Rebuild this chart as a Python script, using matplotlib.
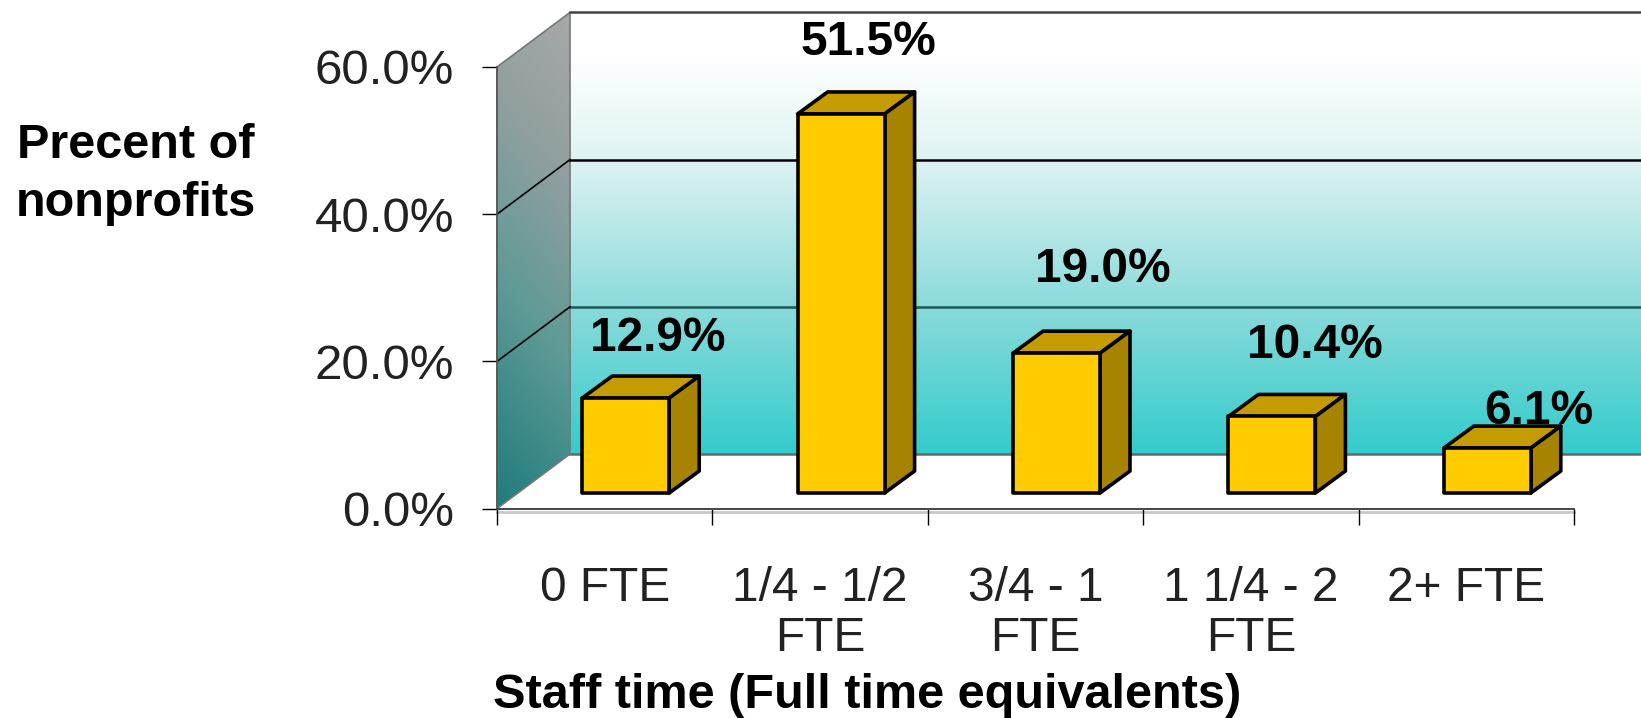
import matplotlib
matplotlib.use("Agg")
import matplotlib.pyplot as plt
from matplotlib.colors import LinearSegmentedColormap
from matplotlib.patches import Polygon
import numpy as np

plt.rcParams['font.family'] = ['Liberation Sans', 'DejaVu Sans']

# Data
categories = ['0 FTE', '1/4 - 1/2\nFTE', '3/4 - 1\nFTE', '1 1/4 - 2\nFTE', '2+ FTE']
percents = [12.9, 51.5, 19.0, 10.4, 6.1]
value_labels = ['12.9%', '51.5%', '19.0%', '10.4%', '6.1%']
y_ticks = [0, 20, 40, 60]

# Hand placed labels in the original, offset from bar top centre in pixels
label_dx = [32, 27, 46, 43, 52]
label_dy = [60, 71, 84, 71, 37]

W, H = 1641, 718
fig = plt.figure(figsize=(W / 100, H / 100), dpi=100, facecolor='white')
ax = fig.add_axes([497 / W, 1 - 508.6 / H, 1077 / W, 441.6 / H])
ax.set_facecolor('none')

# Scales of the fake 3D look (one category = 215.4 px, one percent = 7.36 px)
px_x = 5 / 1077
px_y = 60 / 441.6
wall_dx, wall_dy = 73 * px_x, 54.6 * px_y
floor_dx, floor_dy = 21 * px_x, 15.6 * px_y
bar_dx, bar_dy = 30 * px_x, 22 * px_y
bar_w = 87 * px_x

# Back wall gradient
back_cmap = LinearSegmentedColormap.from_list('back', [
    (0, '#33cccc'), (0.33, '#8adada'), (0.67, '#dff3f3'), (0.9, '#ffffff'), (1, '#ffffff')])
grad = np.linspace(1, 0, 256).reshape(-1, 1)
back = ax.imshow(grad, cmap=back_cmap, vmin=0, vmax=1, aspect='auto', zorder=0,
                 extent=[wall_dx, 5 + wall_dx, wall_dy, 60 + wall_dy])
back.set_clip_on(False)

# Side wall gradient, runs a bit diagonally
side_cmap = LinearSegmentedColormap.from_list('side', [
    (0, '#1e7c7c'), (0.4, '#5f9a96'), (0.7, '#8f9f9f'), (1, '#a8a8a8')])
u, v = np.meshgrid(np.linspace(0, 1, 64), np.linspace(1, 0, 256))
side = ax.imshow(np.clip(v * 0.85 + u * 0.15, 0, 1), cmap=side_cmap, vmin=0, vmax=1,
                 aspect='auto', zorder=0,
                 extent=[0, wall_dx, 0, 60 + wall_dy])
side_poly = Polygon([(0, 0), (wall_dx, wall_dy), (wall_dx, 60 + wall_dy), (0, 60)],
                    closed=True, transform=ax.transData, facecolor='none',
                    edgecolor='#777777', linewidth=1.2, zorder=1, clip_on=False)
ax.add_patch(side_poly)
side.set_clip_path(side_poly)
side.set_clip_box(fig.bbox)

# Gridlines on wall and back
for t, c in zip(y_ticks, ['#666666', '#1c5a5a', '#000000', '#444444']):
    ax.plot([wall_dx, 5 + wall_dx], [t + wall_dy, t + wall_dy], color=c, lw=1.8,
            zorder=1, clip_on=False)
    if t in (20, 40):
        ax.plot([0, wall_dx], [t, t + wall_dy], color='black', lw=1.2, zorder=1, clip_on=False)

# Value labels go under the bars: the 6.1% one is partly hidden in the original
for i, (val, txt) in enumerate(zip(percents, value_labels)):
    ax.annotate(txt, xy=(i + 0.5 + floor_dx, val + floor_dy),
                xytext=(label_dx[i] * 0.72, label_dy[i] * 0.72), textcoords='offset points',
                ha='center', va='center', fontsize=34.5, fontweight='bold', color='black',
                zorder=2, annotation_clip=False)

# Bars
xs = np.arange(5) + 0.5 + floor_dx
ax.bar(xs, percents, width=bar_w, bottom=floor_dy, color='#ffcc00', edgecolor='black',
       linewidth=2.6, zorder=4, clip_on=False, joinstyle='round')
for x, val in zip(xs, percents):
    l, r = x - bar_w / 2, x + bar_w / 2
    low, top = floor_dy, floor_dy + val
    ax.add_patch(Polygon([(l, top), (r, top), (r + bar_dx, top + bar_dy), (l + bar_dx, top + bar_dy)],
                         closed=True, facecolor='#c49c00', edgecolor='black',
                         linewidth=2.6, zorder=3, clip_on=False, joinstyle='round'))
    ax.add_patch(Polygon([(r, low), (r + bar_dx, low + bar_dy), (r + bar_dx, top + bar_dy), (r, top)],
                         closed=True, facecolor='#a68300', edgecolor='black',
                         linewidth=2.6, zorder=3, clip_on=False, joinstyle='round'))

# Axes
ax.set_xlim(0, 5)
ax.set_ylim(0, 60)
for s in ['top', 'right']:
    ax.spines[s].set_visible(False)
ax.spines['left'].set_color('#555555')
ax.spines['left'].set_linewidth(1.2)
ax.spines['bottom'].set_color('#444444')
ax.spines['bottom'].set_linewidth(1.4)
ax.plot([0, 5], [-0.45, -0.45], color='#c8c8c8', lw=2, clip_on=False, zorder=1)

ax.set_yticks(y_ticks)
ax.set_yticklabels([f'{t:.1f}%' for t in y_ticks], color='#222222')
ax.tick_params(axis='y', length=11, width=1, color='black', pad=20, labelsize=35.5)

ax.set_xticks(np.arange(6))
ax.set_xticklabels([])
ax.tick_params(axis='x', which='major', length=11.5, width=1, color='black')
ax.set_xticks(np.arange(5) + 0.5, minor=True)
ax.set_xticklabels(categories, minor=True, fontsize=34.5, color='#222222', linespacing=1.17)
ax.tick_params(axis='x', which='minor', length=0, pad=41)

fig.text(867 / W, 1 - 695 / H, 'Staff time (Full time equivalents)', ha='center', va='center',
         fontsize=35, fontweight='bold', color='black')
fig.text(136 / W, 1 - 146 / H, 'Precent of', ha='center', va='center',
         fontsize=35, fontweight='bold', color='black')
fig.text(136 / W, 1 - 203 / H, 'nonprofits', ha='center', va='center',
         fontsize=35, fontweight='bold', color='black')

fig.savefig('out.png', dpi=100)
